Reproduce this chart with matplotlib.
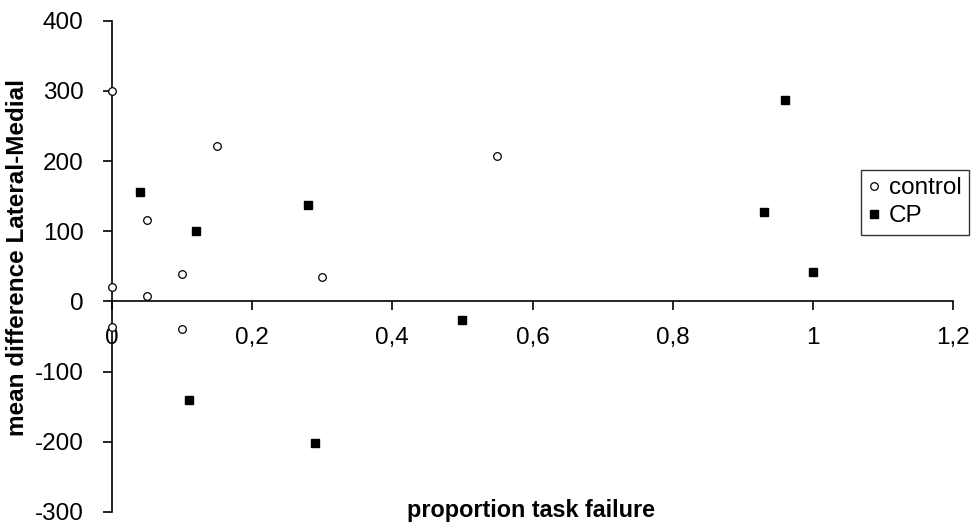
import matplotlib
matplotlib.use("Agg")
import matplotlib.pyplot as plt
from matplotlib.ticker import FuncFormatter

plt.rcParams["font.family"] = ["Liberation Sans", "DejaVu Sans"]
plt.rcParams["axes.unicode_minus"] = False

# control group (open circles)
control_x = [0.0, 0.15, 0.05, 0.10, 0.0, 0.05, 0.0, 0.10, 0.30, 0.55]
control_y = [300, 222, 116, 39, 20, 8, -37, -39, 35, 207]

# CP group (filled squares)
cp_x = [0.04, 0.12, 0.28, 0.11, 0.29, 0.50, 0.96, 0.93, 1.00]
cp_y = [156, 101, 138, -141, -202, -26, 287, 128, 42]

x_ticks = [0, 0.2, 0.4, 0.6, 0.8, 1.0, 1.2]
y_ticks = [-300, -200, -100, 0, 100, 200, 300, 400]

fig = plt.figure(figsize=(9.76, 5.24), dpi=100)
ax = fig.add_axes([112 / 976, 1 - 512 / 524, (953 - 112) / 976, (512 - 20.7) / 524])

ax.plot(control_x, control_y, linestyle="none", marker="o", ms=5.5,
        mfc="white", mec="black", mew=0.9, label="control", clip_on=False, zorder=3)
ax.plot(cp_x, cp_y, linestyle="none", marker="s", ms=5.5,
        mfc="black", mec="black", label="CP", clip_on=False, zorder=3)

ax.set_xlim(0, 1.2)
ax.set_ylim(-300, 400)
ax.set_xticks(x_ticks)
ax.set_yticks(y_ticks)

def comma_fmt(v, pos):
    s = "%g" % round(v, 2)
    return s.replace(".", ",")

ax.xaxis.set_major_formatter(FuncFormatter(comma_fmt))
ax.spines["bottom"].set_position(("data", 0))
ax.spines["top"].set_visible(False)
ax.spines["right"].set_visible(False)
for s in ("left", "bottom"):
    ax.spines[s].set_linewidth(1.2)

ax.tick_params(axis="both", direction="out", length=6.5, width=1.2, labelsize=17.5)
ax.tick_params(axis="x", pad=12)
ax.tick_params(axis="y", pad=14)

ax.set_ylabel("mean difference Lateral-Medial", fontsize=17.5, fontweight="bold")
ax.yaxis.set_label_coords(-0.0987, 0.519)
fig.text((407 + 655) / 2 / 976, 1 - 517 / 524, "proportion task failure",
         ha="center", va="baseline", fontsize=16.8, fontweight="bold")

leg = ax.legend(loc="upper left", bbox_to_anchor=((861 - 112) / 841, (512 - 170) / 491.3),
                frameon=True, fancybox=False, fontsize=17.5, handlelength=0.5,
                handletextpad=0.35, borderpad=0.3, labelspacing=0.25, borderaxespad=0)
leg.get_frame().set_edgecolor("black")
leg.get_frame().set_linewidth(1.0)

fig.savefig("out.png", dpi=100)
